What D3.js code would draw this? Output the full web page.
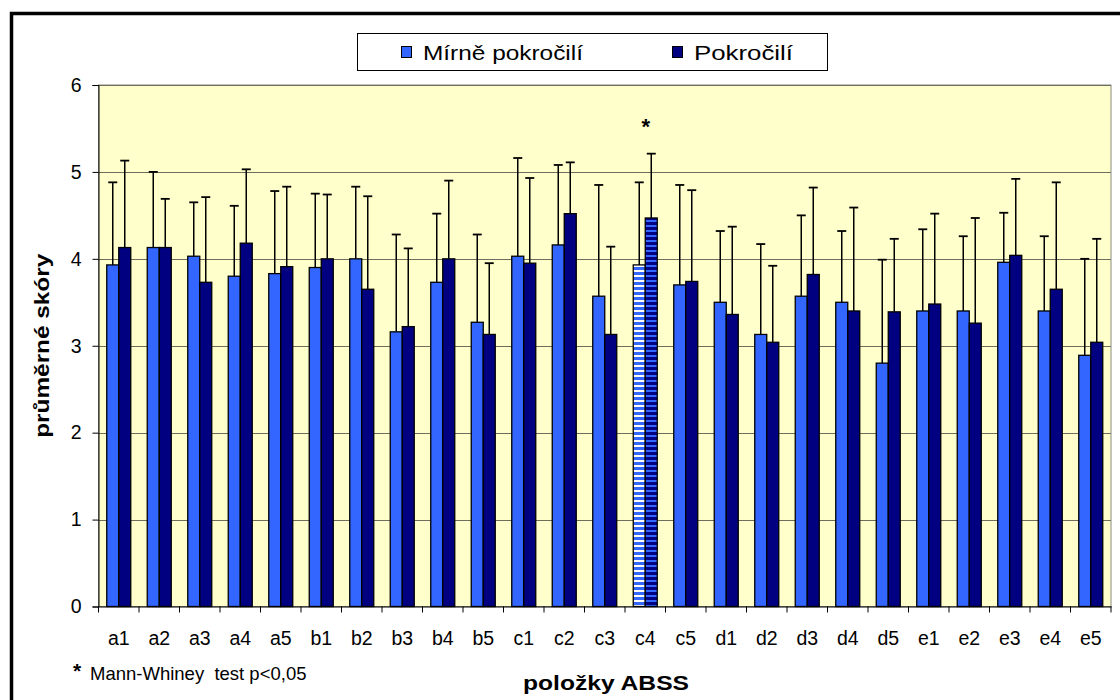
<!DOCTYPE html>
<html>
<head>
<meta charset="utf-8">
<script src="https://cdn.jsdelivr.net/npm/d3@7"></script>
<style>
  html, body { margin: 0; padding: 0; background: #fff; }
  svg { display: block; font-family: "Liberation Sans", Arial, sans-serif; }
</style>
</head>
<body>
<svg id="chart" width="1120" height="700"></svg>
<script>
// Items of the ABSS scale
const categories = ["a1","a2","a3","a4","a5","b1","b2","b3","b4","b5",
                    "c1","c2","c3","c4","c5","d1","d2","d3","d4","d5",
                    "e1","e2","e3","e4","e5"];
const seriesNames = ["Mírně pokročilí", "Pokročilí"];
// Mean scores
const meansMild = [3.93,4.13,4.03,3.80,3.83,3.90,4.00,3.16,3.73,3.27,
                   4.03,4.16,3.57,3.93,3.70,3.50,3.13,3.57,3.50,2.80,
                   3.40,3.40,3.96,3.40,2.89];
const meansAdv  = [4.13,4.13,3.73,4.18,3.91,4.00,3.65,3.22,4.00,3.13,
                   3.95,4.52,3.13,4.47,3.74,3.36,3.04,3.82,3.40,3.39,
                   3.48,3.26,4.04,3.65,3.04];
// Mean + SD (upper end of error bar)
const upperMild = [4.88,5.00,4.65,4.61,4.78,4.75,4.83,4.28,4.52,4.28,
                   5.16,5.08,4.85,4.88,4.85,4.32,4.17,4.50,4.32,3.99,
                   4.34,4.26,4.53,4.26,4.00];
const upperAdv  = [5.13,4.69,4.71,5.03,4.83,4.74,4.72,4.12,4.90,3.95,
                   4.93,5.11,4.14,5.21,4.79,4.37,3.92,4.82,4.59,4.23,
                   4.52,4.47,4.92,4.88,4.23];
const significant = ["c4"];
const yTicks = [0,1,2,3,4,5,6];

const svg = d3.select("#chart");
const colors = ["#3366FF", "#000080"];
const FONT = "Liberation Sans, Arial, sans-serif";

const plot = { left: 98.5, right: 1111, top: 85, bottom: 606.5 };

// Outer chart frame
svg.append("rect")
  .attr("x", 11.5).attr("y", 13.5)
  .attr("width", 1140).attr("height", 720)
  .attr("fill", "none").attr("stroke", "#000").attr("stroke-width", 3.5);

// Stripe patterns for the significant item
const defs = svg.append("defs");
const p1 = defs.append("pattern").attr("id", "stripeMild")
  .attr("patternUnits", "userSpaceOnUse").attr("width", 8).attr("height", 5);
p1.append("rect").attr("width", 8).attr("height", 5).attr("fill", "#3366FF");
p1.append("rect").attr("width", 8).attr("height", 2).attr("fill", "#ffffff");
const p2 = defs.append("pattern").attr("id", "stripeAdv")
  .attr("patternUnits", "userSpaceOnUse").attr("width", 8).attr("height", 5);
p2.append("rect").attr("width", 8).attr("height", 5).attr("fill", "#000080");
p2.append("rect").attr("width", 8).attr("height", 2).attr("fill", "#3366FF");

const x = d3.scaleBand().domain(categories)
  .range([plot.left, plot.right]).paddingInner(0).paddingOuter(0);
const y = d3.scaleLinear().domain([0, 6]).range([plot.bottom, plot.top]);
const xs = d3.scaleBand().domain([0, 1]).range([0, 24]);
const groupOffset = (x.bandwidth() - 24) / 2;

// Plot background
svg.append("rect")
  .attr("x", plot.left).attr("y", plot.top)
  .attr("width", plot.right - plot.left).attr("height", plot.bottom - plot.top)
  .attr("fill", "#FFFFCC").attr("stroke", "#8a8a80").attr("stroke-width", 1);

// Horizontal gridlines
svg.append("g").selectAll("line")
  .data(yTicks.filter(d => d > 0))
  .join("line")
  .attr("x1", plot.left).attr("x2", plot.right)
  .attr("y1", d => Math.round(y(d)) + 0.5).attr("y2", d => Math.round(y(d)) + 0.5)
  .attr("stroke", "#6e6e5e").attr("stroke-width", 1.2);

// Y axis
const yAxis = d3.axisLeft(y).tickValues(yTicks).tickSize(6).tickPadding(11).tickFormat(d3.format("d"));
const gy = svg.append("g").attr("transform", `translate(${plot.left},0)`).call(yAxis);
gy.select(".domain").attr("stroke", "#000").attr("stroke-width", 1);
gy.selectAll(".tick line").attr("stroke", "#000");
gy.selectAll("text").attr("font-size", 19.5).attr("fill", "#000").attr("font-family", FONT);

// X axis
const xAxis = d3.axisBottom(x).tickSize(0).tickPadding(25);
const gx = svg.append("g").attr("transform", `translate(0,${plot.bottom})`).call(xAxis);
gx.select(".domain").attr("stroke", "#000").attr("stroke-width", 1);
gx.selectAll("text").attr("font-size", 19.5).attr("fill", "#000").attr("font-family", FONT);
// Category boundary ticks
svg.append("g").selectAll("line")
  .data(d3.range(categories.length + 1))
  .join("line")
  .attr("x1", i => plot.left + i * x.bandwidth())
  .attr("x2", i => plot.left + i * x.bandwidth())
  .attr("y1", plot.bottom).attr("y2", plot.bottom + 6)
  .attr("stroke", "#000");

// Bars
const rows = categories.map((c, i) => ({
  cat: c,
  vals: [
    { s: 0, mean: meansMild[i], up: upperMild[i] },
    { s: 1, mean: meansAdv[i], up: upperAdv[i] }
  ]
}));

const groups = svg.append("g").selectAll("g")
  .data(rows).join("g")
  .attr("transform", d => `translate(${x(d.cat) + groupOffset},0)`);

groups.selectAll("rect.bar")
  .data(d => d.vals.map(v => ({ ...v, sig: significant.includes(d.cat) })))
  .join("rect").attr("class", "bar")
  .attr("x", d => xs(d.s))
  .attr("width", xs.bandwidth())
  .attr("y", d => y(d.mean))
  .attr("height", d => y(0) - y(d.mean))
  .attr("fill", d => d.sig ? (d.s === 0 ? "url(#stripeMild)" : "url(#stripeAdv)") : colors[d.s])
  .attr("stroke", "#000").attr("stroke-width", 1.3);

// Error bars (upward only)
groups.selectAll("g.err")
  .data(d => d.vals)
  .join("g").attr("class", "err")
  .each(function(d) {
    const g = d3.select(this);
    const cx = xs(d.s) + xs.bandwidth() / 2;
    g.append("line")
      .attr("x1", cx).attr("x2", cx)
      .attr("y1", y(d.mean)).attr("y2", y(d.up))
      .attr("stroke", "#000").attr("stroke-width", 1.5);
    g.append("line")
      .attr("x1", cx - 4.5).attr("x2", cx + 4.5)
      .attr("y1", y(d.up)).attr("y2", y(d.up))
      .attr("stroke", "#000").attr("stroke-width", 1.8);
  });

// Significance marker
significant.forEach(c => {
  const i = categories.indexOf(c);
  const top = Math.max(upperMild[i], upperAdv[i]);
  svg.append("text")
    .attr("x", x(c) + x.bandwidth() / 2 + 0.5)
    .attr("y", y(top) - 20)
    .attr("text-anchor", "middle")
    .attr("font-size", 22).attr("font-weight", "bold")
    .text("*");
});

// Axis titles
svg.append("text")
  .attr("transform", `translate(48.5,${(plot.top + plot.bottom) / 2}) rotate(-90)`)
  .attr("text-anchor", "middle")
  .attr("font-size", 21).attr("font-weight", "bold")
  .attr("textLength", 184).attr("lengthAdjust", "spacingAndGlyphs")
  .text("průměrné skóry");

svg.append("text")
  .attr("x", 606).attr("y", 690)
  .attr("text-anchor", "middle")
  .attr("font-size", 21).attr("font-weight", "bold")
  .attr("textLength", 166).attr("lengthAdjust", "spacingAndGlyphs")
  .text("položky ABSS");

// Footnote
svg.append("text").attr("x", 73).attr("y", 678)
  .attr("font-size", 21).attr("font-weight", "bold").text("*");
svg.append("text").attr("x", 90).attr("y", 679.5)
  .attr("font-size", 18.5).text("Mann-Whiney\u00a0\u00a0test p<0,05");

// Legend
const legend = svg.append("g");
legend.append("rect")
  .attr("x", 357.5).attr("y", 33.5).attr("width", 470).attr("height", 37)
  .attr("fill", "#fff").attr("stroke", "#000").attr("stroke-width", 1);
const legendItems = [
  { name: seriesNames[0], color: colors[0], x: 401, w: 160 },
  { name: seriesNames[1], color: colors[1], x: 672, w: 99 }
];
legendItems.forEach(it => {
  legend.append("rect")
    .attr("x", it.x + 0.5).attr("y", 46.5).attr("width", 10).attr("height", 11)
    .attr("fill", it.color).attr("stroke", "#000").attr("stroke-width", 1);
  legend.append("text")
    .attr("x", it.x + 22).attr("y", 60)
    .attr("font-size", 21)
    .attr("textLength", it.w).attr("lengthAdjust", "spacingAndGlyphs")
    .text(it.name);
});
</script>
</body>
</html>
